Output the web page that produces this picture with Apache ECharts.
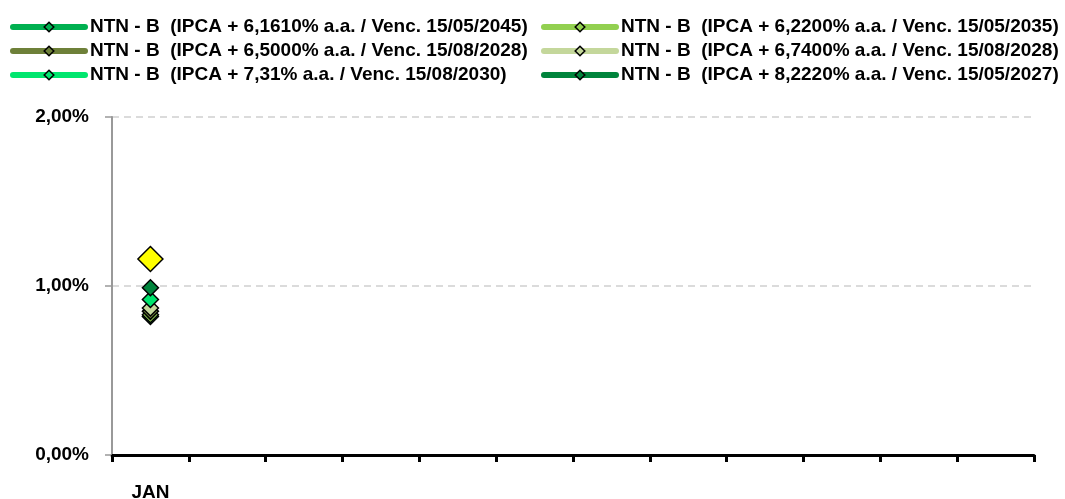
<!DOCTYPE html>
<html><head><meta charset="utf-8">
<script src="https://cdn.jsdelivr.net/npm/echarts@6/dist/echarts.min.js"></script>
<style>html,body{margin:0;padding:0;background:#fff}#c{width:1065px;height:499px}</style>
</head><body><div id="c"></div>
<script>
const categories = ['JAN','FEV','MAR','ABR','MAI','JUN','JUL','AGO','SET','OUT','NOV','DEZ'];
const tickLabels = ['JAN','','','','','','','','','','',''];
const yTicks = [0, 1, 2];
const seriesNames = [
  'NTN - B  (IPCA + 6,1610% a.a. / Venc. 15/05/2045)',
  'NTN - B  (IPCA + 6,2200% a.a. / Venc. 15/05/2035)',
  'NTN - B  (IPCA + 6,5000% a.a. / Venc. 15/08/2028)',
  'NTN - B  (IPCA + 6,7400% a.a. / Venc. 15/08/2028)',
  'NTN - B  (IPCA + 7,31% a.a. / Venc. 15/08/2030)',
  'NTN - B  (IPCA + 8,2220% a.a. / Venc. 15/05/2027)'
];
const s1 = [0.82, null, null, null, null, null, null, null, null, null, null, null];
const s2 = [0.83, null, null, null, null, null, null, null, null, null, null, null];
const s3 = [0.85, null, null, null, null, null, null, null, null, null, null, null];
const s4 = [0.87, null, null, null, null, null, null, null, null, null, null, null];
const s5 = [0.92, null, null, null, null, null, null, null, null, null, null, null];
const s6 = [0.99, null, null, null, null, null, null, null, null, null, null, null];
const benchmark = [1.16, null, null, null, null, null, null, null, null, null, null, null];

const colors = ['#00B050', '#92D050', '#6E8039', '#C4D79B', '#00E66E', '#00843C'];
const values = [s1, s2, s3, s4, s5, s6];

const series = values.map((v, i) => ({
  name: seriesNames[i],
  type: 'line',
  data: v,
  symbol: 'diamond',
  symbolSize: 16,
  lineStyle: { color: colors[i], width: 6, cap: 'round' },
  itemStyle: { color: colors[i], borderColor: '#000', borderWidth: 1.5 },
  emphasis: { disabled: true },
  z: 2 + i
}));
series.push({
  name: 'Benchmark',
  type: 'line',
  data: benchmark,
  symbol: 'diamond',
  symbolSize: 25,
  lineStyle: { color: '#FFFF00', width: 6 },
  itemStyle: { color: '#FFFF00', borderColor: '#000', borderWidth: 1.5 },
  z: 10
});

const legendText = { fontFamily: 'Liberation Sans', fontWeight: 'bold', fontSize: 19, lineHeight: 20, color: '#000' };
const legendCommon = {
  orient: 'vertical',
  itemWidth: 72,
  itemHeight: 12,
  itemGap: 4,
  padding: 0,
  textStyle: legendText,
  lineStyle: { width: 6, cap: 'round' },
  itemStyle: { borderColor: '#000', borderWidth: 1.5 },
  selectedMode: false
};

const chart = echarts.init(document.getElementById('c'));
chart.setOption({
  animation: false,
  backgroundColor: '#fff',
  legend: [
    Object.assign({}, legendCommon, { left: 10, top: 17, data: [seriesNames[0], seriesNames[2], seriesNames[4]] }),
    Object.assign({}, legendCommon, { left: 541, top: 17, data: [seriesNames[1], seriesNames[3], seriesNames[5]] })
  ],
  grid: { left: 112, right: 31, top: 117, bottom: 44, containLabel: false, outerBoundsMode: 'none' },
  xAxis: {
    type: 'category',
    data: categories,
    boundaryGap: true,
    axisLine: { lineStyle: { color: '#000', width: 3 } },
    axisTick: { show: true, interval: 0, length: 7, lineStyle: { color: '#000', width: 3 } },
    axisLabel: {
      interval: 0, margin: 28,
      formatter: (val, idx) => tickLabels[idx],
      fontFamily: 'Liberation Sans', fontWeight: 'bold', fontSize: 19, color: '#000'
    },
    splitLine: { show: false }
  },
  yAxis: {
    type: 'value',
    min: yTicks[0], max: yTicks[yTicks.length - 1], interval: 1,
    axisLine: { show: true, lineStyle: { color: '#999', width: 2 } },
    axisTick: { show: true, length: 7, lineStyle: { color: '#999', width: 1.5 } },
    axisLabel: {
      margin: 23,
      formatter: v => v.toFixed(2).replace('.', ',') + '%',
      fontFamily: 'Liberation Sans', fontWeight: 'bold', fontSize: 19, color: '#000'
    },
    splitLine: { show: true, lineStyle: { color: '#d0d0d0', type: [7, 5], width: 1.5 } }
  },
  series: series
});
</script></body></html>
